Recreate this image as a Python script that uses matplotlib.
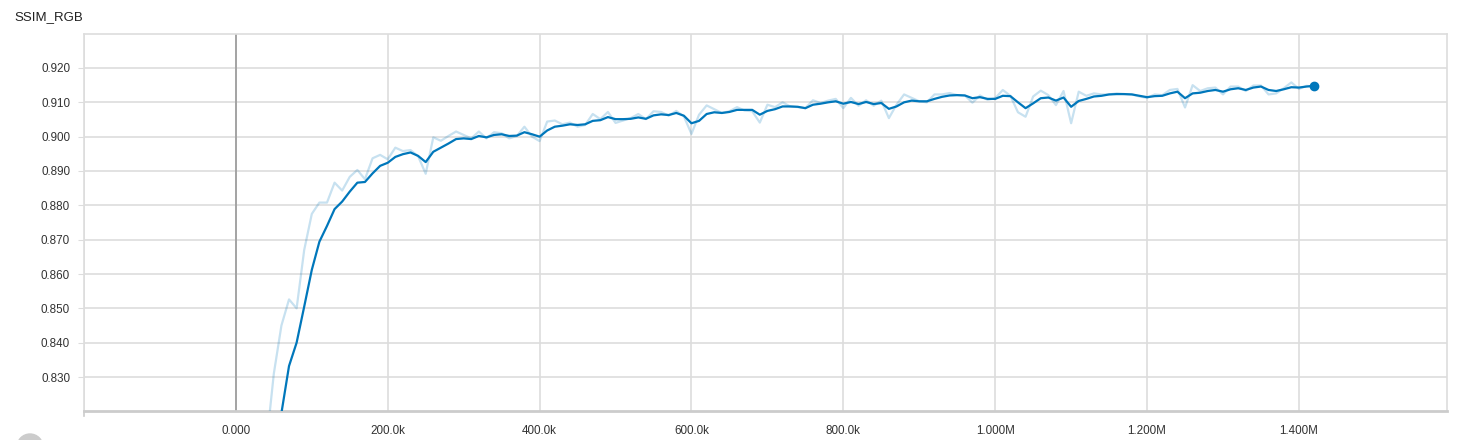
import numpy as np
import matplotlib
matplotlib.use("Agg")
import matplotlib.pyplot as plt
from matplotlib.ticker import FuncFormatter, MultipleLocator
from matplotlib.patches import Ellipse

plt.rcParams['font.family'] = ['Liberation Sans', 'DejaVu Sans']

# training steps, one sample every 10k
steps = np.arange(10000, 1430000, 10000)

# raw SSIM values (light line)
ssim_raw = [
    0.700, 0.745, 0.780, 0.810, 0.831, 0.845, 0.8526, 0.850, 0.867, 0.8775,
    0.8808, 0.8808, 0.8866, 0.8843, 0.8883, 0.8903, 0.8876, 0.8937, 0.8947, 0.8934,
    0.8968, 0.8958, 0.8961, 0.8943, 0.8892, 0.8998, 0.8988, 0.9002, 0.9015, 0.9005,
    0.8995, 0.9015, 0.8995, 0.9013, 0.9010, 0.8995, 0.9002, 0.9029, 0.9000, 0.8987,
    0.9044, 0.9047, 0.9036, 0.9041, 0.9029, 0.9034, 0.9066, 0.9051, 0.9072, 0.9040,
    0.9047, 0.9054, 0.9066, 0.9051, 0.9074, 0.9072, 0.9061, 0.9075, 0.9059, 0.9008,
    0.9064, 0.9091, 0.9080, 0.9069, 0.9074, 0.9086, 0.9076, 0.9074, 0.9041, 0.9093,
    0.9086, 0.9100, 0.9088, 0.9086, 0.9083, 0.9106, 0.9098, 0.9105, 0.9110, 0.9083,
    0.9113, 0.9090, 0.9106, 0.9090, 0.9105, 0.9054, 0.9093, 0.9123, 0.9113, 0.9103,
    0.9100, 0.9123, 0.9123, 0.9127, 0.9121, 0.9120, 0.9099, 0.9120, 0.9107, 0.9112,
    0.9136, 0.9119, 0.9071, 0.9058, 0.9117, 0.9134, 0.9121, 0.9092, 0.9133, 0.9039,
    0.9131, 0.9119, 0.9126, 0.9123, 0.9123, 0.9126, 0.9124, 0.9123, 0.9117, 0.9113,
    0.9123, 0.9121, 0.9136, 0.9139, 0.9085, 0.9150, 0.9133, 0.9141, 0.9143, 0.9123,
    0.9146, 0.9146, 0.9133, 0.9149, 0.9149, 0.9123, 0.9126, 0.9141, 0.9158, 0.9139,
    0.9148, 0.9146,
]

# smoothed SSIM values (dark line)
ssim_smooth = [
    0.690, 0.715, 0.745, 0.775, 0.800, 0.8195, 0.8332, 0.8400, 0.8505, 0.8612,
    0.8694, 0.8740, 0.8789, 0.8811, 0.8840, 0.8866, 0.8868, 0.8893, 0.8915, 0.8924,
    0.8941, 0.8949, 0.8954, 0.8944, 0.8926, 0.8956, 0.8968, 0.8980, 0.8993, 0.8995,
    0.8993, 0.9002, 0.8998, 0.9005, 0.9007, 0.9002, 0.9003, 0.9013, 0.9007, 0.9000,
    0.9018, 0.9029, 0.9032, 0.9036, 0.9034, 0.9036, 0.9046, 0.9048, 0.9057, 0.9051,
    0.9051, 0.9052, 0.9056, 0.9052, 0.9062, 0.9065, 0.9063, 0.9069, 0.9061, 0.9039,
    0.9046, 0.9066, 0.9071, 0.9069, 0.9072, 0.9078, 0.9078, 0.9078, 0.9064, 0.9075,
    0.9080, 0.9088, 0.9088, 0.9087, 0.9083, 0.9093, 0.9096, 0.9100, 0.9103, 0.9096,
    0.9101, 0.9095, 0.9101, 0.9095, 0.9098, 0.9081, 0.9088, 0.9100, 0.9105, 0.9103,
    0.9103, 0.9110, 0.9116, 0.9120, 0.9121, 0.9120, 0.9112, 0.9115, 0.9110, 0.9110,
    0.9119, 0.9118, 0.9100, 0.9083, 0.9097, 0.9112, 0.9114, 0.9105, 0.9114, 0.9087,
    0.9104, 0.9110, 0.9117, 0.9119, 0.9123, 0.9124, 0.9124, 0.9123, 0.9119, 0.9115,
    0.9118, 0.9119, 0.9126, 0.9131, 0.9112, 0.9126, 0.9128, 0.9133, 0.9136, 0.9131,
    0.9138, 0.9141, 0.9136, 0.9143, 0.9146, 0.9136, 0.9133, 0.9138, 0.9144, 0.9143,
    0.9146, 0.9148,
]

line_color = '#0077bb'
grid_color = '#dddddd'


def step_fmt(x, pos):
    if x < -1e-9:
        return ''
    if abs(x) < 1e-9:
        return '0.000'
    if abs(x) < 1e6:
        return f'{x / 1e3:.1f}k'
    return f'{x / 1e6:.3f}M'


fig = plt.figure(figsize=(14.59, 4.40), dpi=100)
ax = fig.add_axes([84 / 1459, 1 - 411 / 440, (1447 - 84) / 1459, (411 - 34) / 440])

ax.plot(steps, ssim_raw, color=line_color, alpha=0.22, lw=1.6, zorder=3)
ax.plot(steps, ssim_smooth, color=line_color, lw=1.6, zorder=4)
ax.plot(steps[-1], ssim_smooth[-1], 'o', color=line_color, ms=6, zorder=5)

ax.axvline(0, color='#999999', lw=1.2, zorder=2)

ax.set_xlim(-200000, 1595000)
ax.set_ylim(0.8201, 0.9299)
ax.xaxis.set_major_locator(MultipleLocator(200000))
ax.xaxis.set_major_formatter(FuncFormatter(step_fmt))
ax.set_yticks(np.arange(0.83, 0.9201, 0.01))
ax.yaxis.set_major_formatter(FuncFormatter(lambda v, p: f'{v:.3f}'))

ax.grid(True, color=grid_color, lw=1.2, zorder=0)
for s in ax.spines.values():
    s.set_color(grid_color)
    s.set_linewidth(1.2)
ax.spines['bottom'].set_color('#cccccc')
ax.spines['bottom'].set_linewidth(2)

ax.tick_params(axis='y', length=4, color=grid_color, labelsize=8.4, labelcolor='#333333', pad=6)
ax.tick_params(axis='x', length=0, labelsize=8.4, labelcolor='#333333', pad=10)
# small domain tick at the lower-left corner
ax.plot([-200000, -200000], [0.8201, 0.8187], color='#cccccc', lw=1.2, clip_on=False)

fig.text(14 / 1459, 1 - 17 / 440, 'SSIM_RGB', fontsize=9.5, color='#212121', va='center', ha='left')

fig.add_artist(Ellipse((30 / 1459, 1 - 447 / 440), 26 / 1459, 26 / 440,
                       color='#cccccc', transform=fig.transFigure, clip_on=False))

fig.savefig('out.png', dpi=100)
